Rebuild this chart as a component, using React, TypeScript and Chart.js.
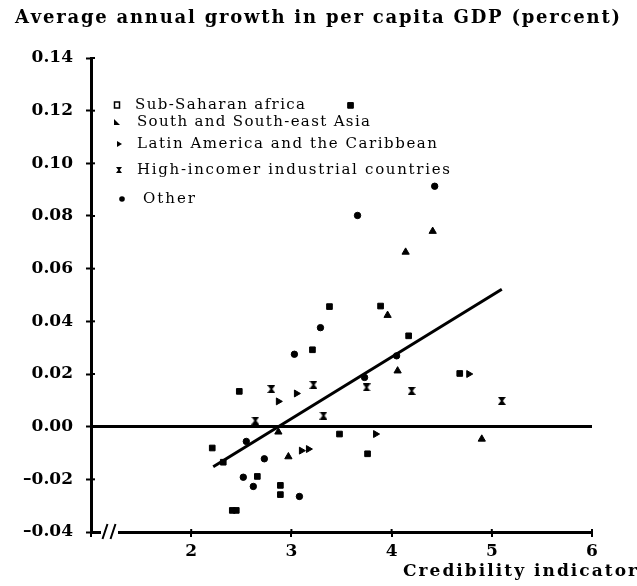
import React, { useEffect, useRef } from 'react';
import { Chart, registerables } from 'chart.js';

Chart.register(...registerables);

// ---- Text ----
const titleText = 'Average annual growth in per capita GDP (percent)';
const xAxisTitle = 'Credibility indicator';
const seriesNames = [
  'Sub-Saharan africa',
  'South and South-east Asia',
  'Latin America and the Caribbean',
  'High-incomer industrial countries',
  'Other',
];

// ---- Axis ranges ----
const xMin = 1;
const xMax = 6;
const xStep = 1;
const yMin = -0.04;
const yMax = 0.14;
const yStep = 0.02;

// ---- Data (credibility indicator, growth) ----
const ssaX = [3.59, 3.38, 3.21, 2.48, 3.48, 2.21, 2.41, 2.45, 3.89, 4.17, 4.68, 2.66, 2.89, 2.89, 3.76, 2.32];
const ssaY = [0.122, 0.0456, 0.0292, 0.0134, -0.0028, -0.0081, -0.0318, -0.0318, 0.0458, 0.0345, 0.0202, -0.0189, -0.0223, -0.0258, -0.0103, -0.0135];

const asiaX = [4.41, 4.14, 4.06, 3.96, 4.9, 2.97, 2.87];
const asiaY = [0.0742, 0.0663, 0.0212, 0.0423, -0.0047, -0.0114, -0.002];

const latamX = [3.05, 3.17, 3.84, 3.1, 4.77, 2.87];
const latamY = [0.0126, -0.0085, -0.0028, -0.0091, 0.02, 0.0096];

const highX = [3.22, 2.64, 3.75, 4.2, 5.1, 2.8, 3.32];
const highY = [0.0159, 0.0023, 0.0149, 0.0136, 0.0098, 0.0143, 0.0042];

const otherX = [4.43, 3.66, 3.29, 3.03, 2.73, 2.52, 2.62, 3.08, 4.05, 2.55, 3.73];
const otherY = [0.0913, 0.0802, 0.0376, 0.0275, -0.0122, -0.0192, -0.0227, -0.0265, 0.0269, -0.0056, 0.0187];

// regression line end points
const fitX = [2.22, 5.1];
const fitY = [-0.0152, 0.0522];

const zip = (xs: number[], ys: number[]) => xs.map((x, i) => ({ x, y: ys[i] }));

function makeHourglass(size: number): HTMLCanvasElement {
  const c = document.createElement('canvas');
  c.width = size;
  c.height = size;
  const g = c.getContext('2d')!;
  g.fillStyle = '#000';
  g.beginPath();
  g.moveTo(0, 0);
  g.lineTo(size, 0);
  g.lineTo(size / 2 + 1, size / 2);
  g.lineTo(size, size);
  g.lineTo(0, size);
  g.lineTo(size / 2 - 1, size / 2);
  g.closePath();
  g.fill();
  return c;
}

function drawSpaced(ctx: CanvasRenderingContext2D, text: string, x: number, y: number, width: number, font: string) {
  ctx.font = font;
  ctx.textBaseline = 'middle';
  ctx.textAlign = 'left';
  ctx.fillStyle = '#000';
  const chars = Array.from(text);
  const ws = chars.map((c) => ctx.measureText(c).width);
  const total = ws.reduce((a, b) => a + b, 0);
  const gap = chars.length > 1 ? (width - total) / (chars.length - 1) : 0;
  let cx = x;
  chars.forEach((c, i) => {
    ctx.fillText(c, cx, y);
    cx += ws[i] + gap;
  });
}

function drawMarker(ctx: CanvasRenderingContext2D, kind: number, x: number, y: number) {
  ctx.fillStyle = '#000';
  ctx.strokeStyle = '#000';
  ctx.lineWidth = 1.5;
  ctx.beginPath();
  if (kind === 0) {
    ctx.strokeRect(x - 2.5, y - 3, 5, 6);
  } else if (kind === 1) {
    ctx.moveTo(x - 3, y + 3);
    ctx.lineTo(x - 3, y - 3);
    ctx.lineTo(x + 3, y + 3);
    ctx.closePath();
    ctx.fill();
  } else if (kind === 2) {
    ctx.moveTo(x - 2, y - 3);
    ctx.lineTo(x + 3, y);
    ctx.lineTo(x - 2, y + 3);
    ctx.closePath();
    ctx.fill();
  } else if (kind === 3) {
    ctx.moveTo(x - 3, y - 3);
    ctx.lineTo(x + 3, y - 3);
    ctx.lineTo(x + 0.7, y);
    ctx.lineTo(x + 3, y + 3);
    ctx.lineTo(x - 3, y + 3);
    ctx.lineTo(x - 0.7, y);
    ctx.closePath();
    ctx.fill();
  } else {
    ctx.arc(x, y, 2.8, 0, Math.PI * 2);
    ctx.fill();
  }
}

const legendRows = [
  { mx: 117, tx: 135, y: 105, w: 170 },
  { mx: 117, tx: 137, y: 122, w: 233 },
  { mx: 119, tx: 137, y: 144, w: 300 },
  { mx: 119, tx: 137, y: 170, w: 313 },
  { mx: 122, tx: 143, y: 199, w: 52 },
];

const decorPlugin = {
  id: 'decor',
  afterDraw(chart: any) {
    const ctx: CanvasRenderingContext2D = chart.ctx;
    const { left, bottom } = chart.chartArea;
    ctx.save();
    // title
    drawSpaced(ctx, titleText, 15, 18, 605, 'bold 18px "DejaVu Serif"');
    // x axis title
    drawSpaced(ctx, xAxisTitle, 403, 572, 234, 'bold 17px "DejaVu Serif"');
    // legend
    seriesNames.forEach((name, i) => {
      const r = legendRows[i];
      drawMarker(ctx, i, r.mx, r.y);
      drawSpaced(ctx, name, r.tx, r.y, r.w, '15px "DejaVu Serif"');
    });
    // inner tick marks
    ctx.strokeStyle = '#000';
    ctx.lineWidth = 2;
    const ys = chart.scales.y;
    ys.ticks.forEach((t: any) => {
      const py = ys.getPixelForValue(t.value);
      ctx.beginPath();
      ctx.moveTo(left, py);
      ctx.lineTo(left + 4, py);
      ctx.stroke();
    });
    const xs = chart.scales.x;
    xs.ticks.forEach((t: any) => {
      if (t.value === xMin) return;
      const px = xs.getPixelForValue(t.value);
      ctx.beginPath();
      ctx.moveTo(px, bottom);
      ctx.lineTo(px, bottom - 3);
      ctx.stroke();
    });
    // axis break
    ctx.fillStyle = '#fff';
    ctx.fillRect(left + 10, bottom - 3, 17, 6);
    ctx.lineWidth = 2;
    [left + 14, left + 22].forEach((bx) => {
      ctx.beginPath();
      ctx.moveTo(bx + 2.5, bottom - 8);
      ctx.lineTo(bx - 2.5, bottom + 7);
      ctx.stroke();
    });
    ctx.restore();
  },
};

export default function App() {
  const ref = useRef<HTMLCanvasElement>(null);

  useEffect(() => {
    if (!ref.current) return;
    const hour = makeHourglass(8);
    const tickFont = { family: '"DejaVu Serif"', size: 17, weight: 'bold' as const };
    const chart = new Chart(ref.current, {
      type: 'scatter',
      data: {
        datasets: [
          {
            type: 'line' as any,
            label: 'fit',
            data: zip(fitX, fitY),
            borderColor: '#000',
            borderWidth: 3,
            pointRadius: 0,
            fill: false,
            order: 5,
          } as any,
          {
            label: seriesNames[0],
            data: zip(ssaX, ssaY),
            pointStyle: 'rect',
            pointRadius: 4,
            backgroundColor: '#000',
            borderColor: '#000',
            borderWidth: 1,
          },
          {
            label: seriesNames[1],
            data: zip(asiaX, asiaY),
            pointStyle: 'triangle',
            pointRadius: 4.2,
            backgroundColor: '#000',
            borderColor: '#000',
            borderWidth: 1,
          },
          {
            label: seriesNames[2],
            data: zip(latamX, latamY),
            pointStyle: 'triangle',
            rotation: 90,
            pointRadius: 4,
            backgroundColor: '#000',
            borderColor: '#000',
            borderWidth: 1,
          } as any,
          {
            label: seriesNames[3],
            data: zip(highX, highY),
            pointStyle: hour as any,
            pointRadius: 4,
            backgroundColor: '#000',
            borderColor: '#000',
          },
          {
            label: seriesNames[4],
            data: zip(otherX, otherY),
            pointStyle: 'circle',
            pointRadius: 3.2,
            backgroundColor: '#000',
            borderColor: '#000',
            borderWidth: 1,
          },
        ],
      },
      options: {
        animation: false,
        responsive: false,
        maintainAspectRatio: false,
        layout: { padding: { top: 58, right: 45, bottom: 0, left: 0 } },
        plugins: {
          legend: { display: false },
          title: { display: false },
          tooltip: { enabled: false },
        },
        scales: {
          x: {
            type: 'linear',
            min: xMin,
            max: xMax,
            afterFit: (s: any) => {
              s.height = 54;
            },
            ticks: {
              stepSize: xStep,
              color: '#000',
              font: tickFont,
              padding: 4,
              maxRotation: 0,
              callback: (v: any) => (v === xMin ? '' : String(v)),
            },
            grid: { drawOnChartArea: false, color: '#000', tickLength: 5, lineWidth: 2 },
            border: { display: true, color: '#000', width: 3 },
          },
          y: {
            type: 'linear',
            min: yMin,
            max: yMax,
            afterFit: (s: any) => {
              s.width = 91;
            },
            ticks: {
              stepSize: yStep,
              color: '#000',
              font: tickFont,
              padding: 13,
              callback: (v: any) => {
                const n = Number(v);
                if (Math.abs(n) < 1e-9) return '0.00';
                return n < 0 ? '\u2013' + Math.abs(n).toFixed(2) : n.toFixed(2);
              },
            },
            grid: {
              color: (c: any) => (c.tick && Math.abs(c.tick.value) < 1e-9 ? '#000' : 'rgba(0,0,0,0)'),
              lineWidth: (c: any) => (c.tick && Math.abs(c.tick.value) < 1e-9 ? 3 : 1),
              tickColor: '#000',
              tickLength: 5,
              tickWidth: 2,
            },
            border: { display: true, color: '#000', width: 3 },
          },
        },
      },
      plugins: [decorPlugin],
    });
    return () => chart.destroy();
  }, []);

  return (
    <div style={{ position: 'fixed', left: 0, top: 0, width: 637, height: 586, background: '#fff' }}>
      <canvas ref={ref} width={637} height={586} style={{ display: 'block' }} />
    </div>
  );
}
